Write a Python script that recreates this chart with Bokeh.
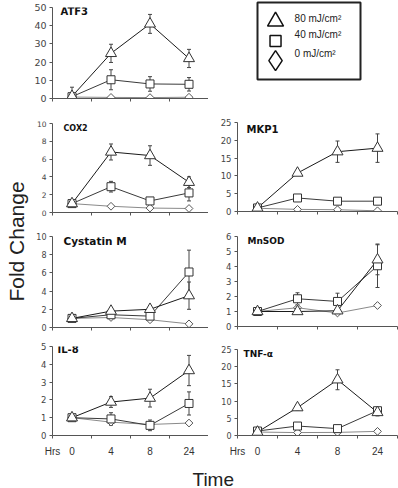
import math
from bokeh.plotting import figure
from bokeh.layouts import row, column
from bokeh.models import Range1d, FixedTicker, Whisker, TeeHead, ColumnDataSource, Label
from bokeh.embed import file_html
from bokeh.resources import INLINE
from bokeh.core.properties import value

hours = ["0", "4", "8", "24"]
dose_labels = ["80 mJ/cm²", "40 mJ/cm²", "0 mJ/cm²"]

atf3_80 = [1.2, 24.8, 41.0, 22.0]
atf3_80_err = [5.0, 5.0, 5.2, 5.0]
atf3_40 = [1.0, 10.3, 8.0, 7.8]
atf3_40_err = [0.0, 5.5, 4.0, 3.7]
atf3_0 = [0.8, 0.6, 0.5, 0.7]

cox2_80 = [1.0, 6.8, 6.4, 3.4]
cox2_80_err = [0.0, 0.9, 1.1, 0.6]
cox2_40 = [1.0, 2.9, 1.3, 2.2]
cox2_40_err = [0.0, 0.6, 0.2, 0.9]
cox2_0 = [1.0, 0.7, 0.5, 0.45]

mkp1_80 = [1.0, 10.8, 16.8, 17.8]
mkp1_80_err = [0.0, 0.5, 3.0, 4.0]
mkp1_40 = [1.0, 3.8, 2.9, 2.9]
mkp1_40_err = [0.0, 0.0, 0.0, 0.0]
mkp1_0 = [0.9, 0.6, 0.5, 0.2]

cyst_80 = [1.0, 1.8, 2.0, 3.5]
cyst_80_err = [0.0, 0.2, 0.2, 1.5]
cyst_40 = [1.0, 1.4, 1.25, 6.1]
cyst_40_err = [0.0, 0.3, 0.3, 2.4]
cyst_0 = [1.0, 1.1, 0.85, 0.4]

mnsod_80 = [1.0, 1.0, 1.05, 4.45]
mnsod_80_err = [0.0, 0.1, 0.1, 1.0]
mnsod_40 = [1.0, 1.85, 1.67, 4.05]
mnsod_40_err = [0.0, 0.4, 0.55, 1.45]
mnsod_0 = [1.0, 1.25, 0.9, 1.4]

il8_80 = [1.0, 1.88, 2.1, 3.65]
il8_80_err = [0.0, 0.3, 0.5, 0.85]
il8_40 = [1.0, 0.93, 0.57, 1.8]
il8_40_err = [0.0, 0.35, 0.3, 0.65]
il8_0 = [1.0, 0.75, 0.62, 0.7]

tnf_80 = [1.0, 8.1, 16.2, 6.7]
tnf_80_err = [0.0, 0.8, 2.9, 1.0]
tnf_40 = [1.3, 2.75, 2.0, 7.2]
tnf_40_err = [0.0, 0.3, 0.3, 0.8]
tnf_0 = [1.0, 0.85, 0.9, 1.2]

ZERO = [0.0] * len(hours)

def panel(title, tri, tri_e, sq, sq_e, dia, ymax, ystep, width, height, bl, bt, bb, br,
          tick_fs, title_fs, tdx, tdy, bottom=False):
    p = figure(width=width, height=height, x_range=Range1d(0, 2 * len(hours)),
               y_range=Range1d(0, ymax), output_backend="svg", toolbar_location=None,
               title=None,
               min_border_left=bl, min_border_top=bt, min_border_bottom=bb, min_border_right=br)
    p.frame_align = False
    p.outline_line_color = None
    p.xgrid.visible = False
    p.ygrid.visible = False
    xs = [2 * i + 1 for i in range(len(hours))]
    series = [
        (dia, ZERO, "square", 5.5, math.pi / 4, "#8a8a8a", "#555555"),
        (sq, sq_e, "square", 8, 0.0, "#3a3a3a", "#333333"),
        (tri, tri_e, "triangle", 11, 0.0, "#1a1a1a", "#333333"),
    ]
    for vals, errs, marker, size, ang, lc, mc in series:
        p.line(xs, vals, line_color=lc, line_width=1)
        bx = [xs[i] for i in range(len(vals)) if errs[i] > 0]
        up = [vals[i] + errs[i] for i in range(len(vals)) if errs[i] > 0]
        lo = [vals[i] - errs[i] for i in range(len(vals)) if errs[i] > 0]
        if bx:
            src = ColumnDataSource(dict(x=bx, upper=up, lower=lo))
            p.add_layout(Whisker(source=src, base="x", upper="upper", lower="lower",
                                 dimension="height", line_color="#444444", line_width=1,
                                 upper_head=TeeHead(size=4, line_color="#444444", line_width=1),
                                 lower_head=TeeHead(size=4, line_color="#444444", line_width=1)))
    for vals, errs, marker, size, ang, lc, mc in series:
        p.scatter(xs, vals, marker=marker, size=size, angle=ang, fill_color="white",
                  line_color=mc, line_width=1)
    ya = p.yaxis[0]
    ya.ticker = FixedTicker(ticks=list(range(0, ymax + 1, ystep)), minor_ticks=[])
    ya.major_tick_out = 3
    ya.major_tick_in = 0
    ya.minor_tick_out = 0
    ya.minor_tick_in = 0
    ya.axis_line_color = "#555555"
    ya.major_tick_line_color = "#555555"
    ya.major_label_text_font = "DejaVu Sans"
    ya.major_label_text_font_size = f"{tick_fs}px"
    ya.major_label_text_color = "#444444"
    ya.major_label_standoff = 3
    xa = p.xaxis[0]
    ticks = ([0] + xs) if bottom else []
    xa.ticker = FixedTicker(ticks=ticks, minor_ticks=[2 * i for i in range(len(hours) + 1)])
    ov = {0: "Hrs"}
    for i, h in enumerate(hours):
        ov[xs[i]] = h
    xa.major_label_overrides = ov
    xa.major_tick_out = 0
    xa.major_tick_in = 0
    xa.minor_tick_out = 3
    xa.minor_tick_in = 0
    xa.axis_line_color = "#555555"
    xa.minor_tick_line_color = "#555555"
    xa.major_label_text_font = "Liberation Sans"
    xa.major_label_text_font_size = "10px"
    xa.major_label_text_color = "#333333"
    xa.major_label_standoff = 7
    p.add_layout(Label(x=0, y=ymax, x_offset=tdx, y_offset=-tdy, text=title,
                       text_baseline="middle", text_align="left", text_font="DejaVu Sans",
                       text_font_style="bold", text_font_size=f"{title_fs}px",
                       text_color="#111111"))
    return p

atf3 = panel("ATF3", atf3_80, atf3_80_err, atf3_40, atf3_40_err, atf3_0, 50, 10,
             208, 110, 52, 7, 12, 0, 9.5, 10, 8, 3.5)
cox2 = panel("COX2", cox2_80, cox2_80_err, cox2_40, cox2_40_err, cox2_0, 10, 2,
             178, 114, 22, 13, 12, 0, 7.5, 8, 11, 5)
cyst = panel("Cystatin M", cyst_80, cyst_80_err, cyst_40, cyst_40_err, cyst_0, 10, 2,
             178, 116, 22, 12, 13, 0, 8, 10.5, 11, 4.3)
il8 = panel("IL-8", il8_80, il8_80_err, il8_40, il8_40_err, il8_0, 5, 1,
            178, 119, 22, 6, 22, 0, 8.5, 10, 5, 3, bottom=True)
mkp1 = panel("MKP1", mkp1_80, mkp1_80_err, mkp1_40, mkp1_40_err, mkp1_0, 25, 5,
             190, 114, 29, 12, 13, 1, 8.5, 10, 9, 6.7)
mnsod = panel("MnSOD", mnsod_80, mnsod_80_err, mnsod_40, mnsod_40_err, mnsod_0, 6, 1,
              190, 116, 29, 12, 14, 1, 8.5, 9, 10, 4.7)
tnf = panel("TNF-α", tnf_80, tnf_80_err, tnf_40, tnf_40_err, tnf_0, 25, 5,
            190, 119, 29, 9, 22, 1, 8, 9, 6, 4.3, bottom=True)

# legend box
lg = figure(width=190, height=110, x_range=Range1d(0, 1), y_range=Range1d(2.97, -0.97),
            min_border_left=49, min_border_right=38, min_border_top=2, min_border_bottom=31,
            x_axis_type=None, y_axis_type=None, output_backend="svg", toolbar_location=None,
            title=None)
lg.frame_align = False
lg.outline_line_color = "#222222"
lg.outline_line_width = 2
lg.xgrid.visible = False
lg.ygrid.visible = False
idx = list(range(len(dose_labels)))
lg.scatter(x=[0.175] * len(idx), y=idx, marker=["triangle", "square", "diamond"],
           size=[16, 11, 20], fill_color="white", line_color="#111111", line_width=1.5)
lg.text(x=[0.36] * len(idx), y=idx, text=dose_labels, text_baseline="middle",
        text_font=value("Liberation Sans"), text_font_size="10px", text_color="#222222",
        y_offset=[-2.5, -7, -7])

# y title
yl = figure(width=30, height=349, x_range=Range1d(0, 30), y_range=Range1d(0, 349),
            min_border_left=0, min_border_right=0, min_border_top=0, min_border_bottom=0,
            x_axis_type=None, y_axis_type=None, output_backend="svg", toolbar_location=None,
            title=None)
yl.frame_align = False
yl.outline_line_color = None
yl.xgrid.visible = False
yl.ygrid.visible = False
yl.text(x=[16], y=[218], text=["Fold Change"], angle=math.pi / 2, text_align="center",
        text_baseline="alphabetic", text_font=value("Liberation Sans"),
        text_font_size="21px", text_color="#222222")

# x title
xl = figure(width=398, height=29, x_range=Range1d(0, 398), y_range=Range1d(0, 29),
            min_border_left=0, min_border_right=0, min_border_top=0, min_border_bottom=0,
            x_axis_type=None, y_axis_type=None, output_backend="svg", toolbar_location=None,
            title=None)
xl.frame_align = False
xl.outline_line_color = None
xl.xgrid.visible = False
xl.ygrid.visible = False
xl.text(x=[192], y=[9], text=["Time"], text_align="left", text_baseline="alphabetic",
        text_font=value("Liberation Sans"), text_font_size="19px", text_color="#222222")

left_col = column(atf3, row(yl, column(cox2, cyst, il8)))
right_col = column(lg, mkp1, mnsod, tnf)
root = column(row(left_col, right_col), xl)

open("out.html", "w").write(file_html(root, INLINE))
